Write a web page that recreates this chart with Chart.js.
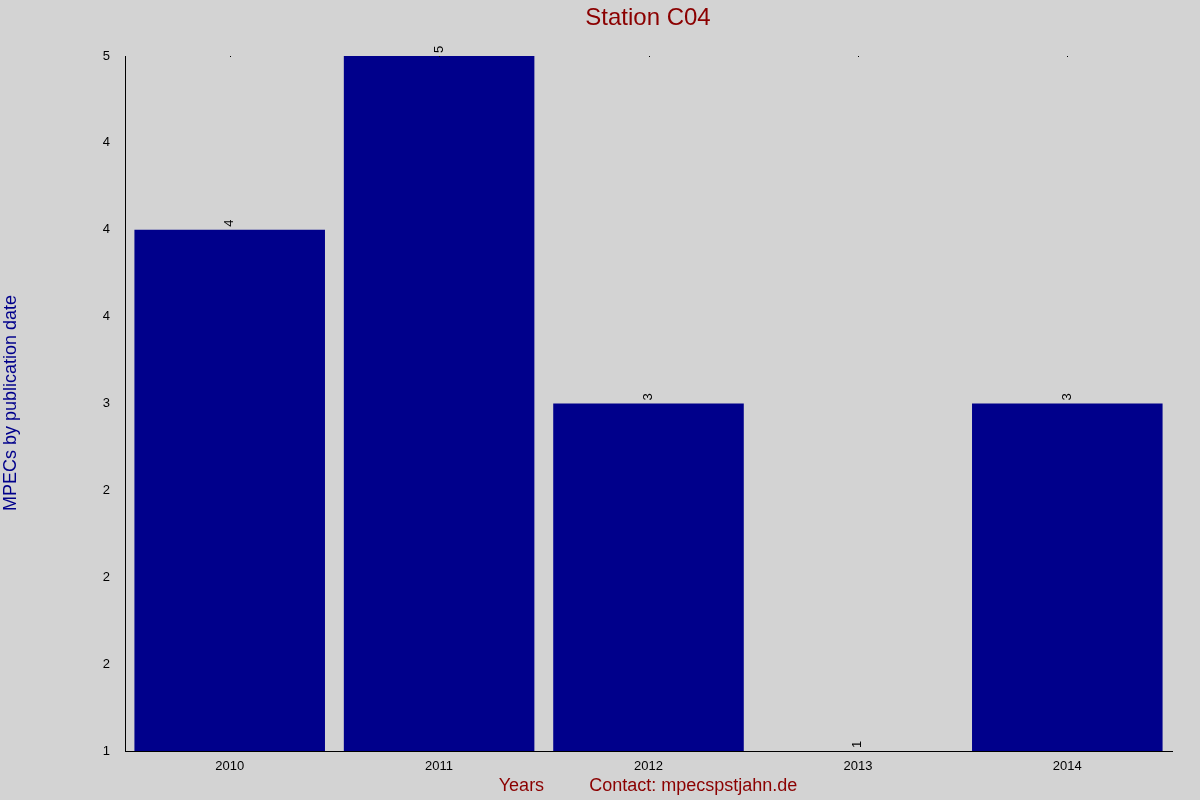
<!DOCTYPE html>
<html>
<head>
<meta charset="utf-8">
<script src="https://cdn.jsdelivr.net/npm/chart.js@4/dist/chart.umd.min.js"></script>
<style>
  html, body { margin: 0; padding: 0; background: #d3d3d3; }
  #wrap { width: 1200px; height: 800px; }
</style>
</head>
<body>
<div id="wrap"><canvas id="c"></canvas></div>
<script>
// data
const years = ['2010', '2011', '2012', '2013', '2014']
const mpecs = [4, 5, 3, 1, 3]
const yTickValues = [1, 1.5, 2, 2.5, 3, 3.5, 4, 4.5, 5]
const yTickLabels = ['1', '2', '2', '2', '3', '4', '4', '4', '5']

const FONT = 'Arial, "Liberation Sans", sans-serif'

// titles and rotated value labels
const textPlugin = {
  id: 'texts',
  afterDraw(chart) {
    const ctx = chart.ctx
    const area = chart.chartArea
    ctx.save()
    ctx.font = '24px ' + FONT
    ctx.fillStyle = '#8b0000'
    ctx.textAlign = 'center'
    ctx.textBaseline = 'middle'
    ctx.fillText('Station C04', 648, 18)

    ctx.font = '18px ' + FONT
    ctx.fillText('Years         Contact: mpecspstjahn.de', 648, 786)

    ctx.fillStyle = '#00008b'
    ctx.translate(11, 403)
    ctx.rotate(-Math.PI / 2)
    ctx.fillText('MPECs by publication date', 0, 0)
    ctx.restore()

    // value labels
    const meta = chart.getDatasetMeta(0)
    ctx.save()
    ctx.font = '13px ' + FONT
    ctx.fillStyle = '#000'
    meta.data.forEach((bar, i) => {
      ctx.save()
      ctx.translate(bar.x, bar.y - 3)
      ctx.rotate(-Math.PI / 2)
      ctx.textAlign = 'left'
      ctx.textBaseline = 'middle'
      ctx.fillText(String(mpecs[i]), 0, 0)
      ctx.restore()
      // tiny dot at the top of each category
      ctx.fillRect(Math.round(bar.x), area.top, 1, 1)
    })
    ctx.restore()
  }
}

new Chart(document.getElementById('c'), {
  type: 'bar',
  data: {
    labels: years,
    datasets: [{
      data: mpecs,
      backgroundColor: '#00008b',
      barPercentage: 0.91,
      categoryPercentage: 1.0
    }]
  },
  options: {
    responsive: true,
    maintainAspectRatio: false,
    animation: false,
    layout: { padding: { top: 56, right: 28, left: 0, bottom: 0 } },
    plugins: { legend: { display: false }, tooltip: { enabled: false }, title: { display: false } },
    scales: {
      x: {
        grid: { display: false, drawTicks: false },
        border: { color: '#000' },
        ticks: { color: '#000', font: { size: 13, family: FONT }, padding: 8 },
        afterFit(s) { s.height = 49 }
      },
      y: {
        min: 1,
        max: 5,
        afterBuildTicks(s) { s.ticks = yTickValues.map(v => ({ value: v })) },
        grid: { display: false, drawOnChartArea: false, drawTicks: true, tickLength: 7, color: '#000' },
        border: { color: '#000' },
        ticks: {
          color: '#000',
          font: { size: 13, family: FONT },
          padding: 8,
          callback: (v, i) => yTickLabels[i]
        },
        afterFit(s) { s.width = 125 }
      }
    }
  },
  plugins: [textPlugin]
})
</script>
</body>
</html>
